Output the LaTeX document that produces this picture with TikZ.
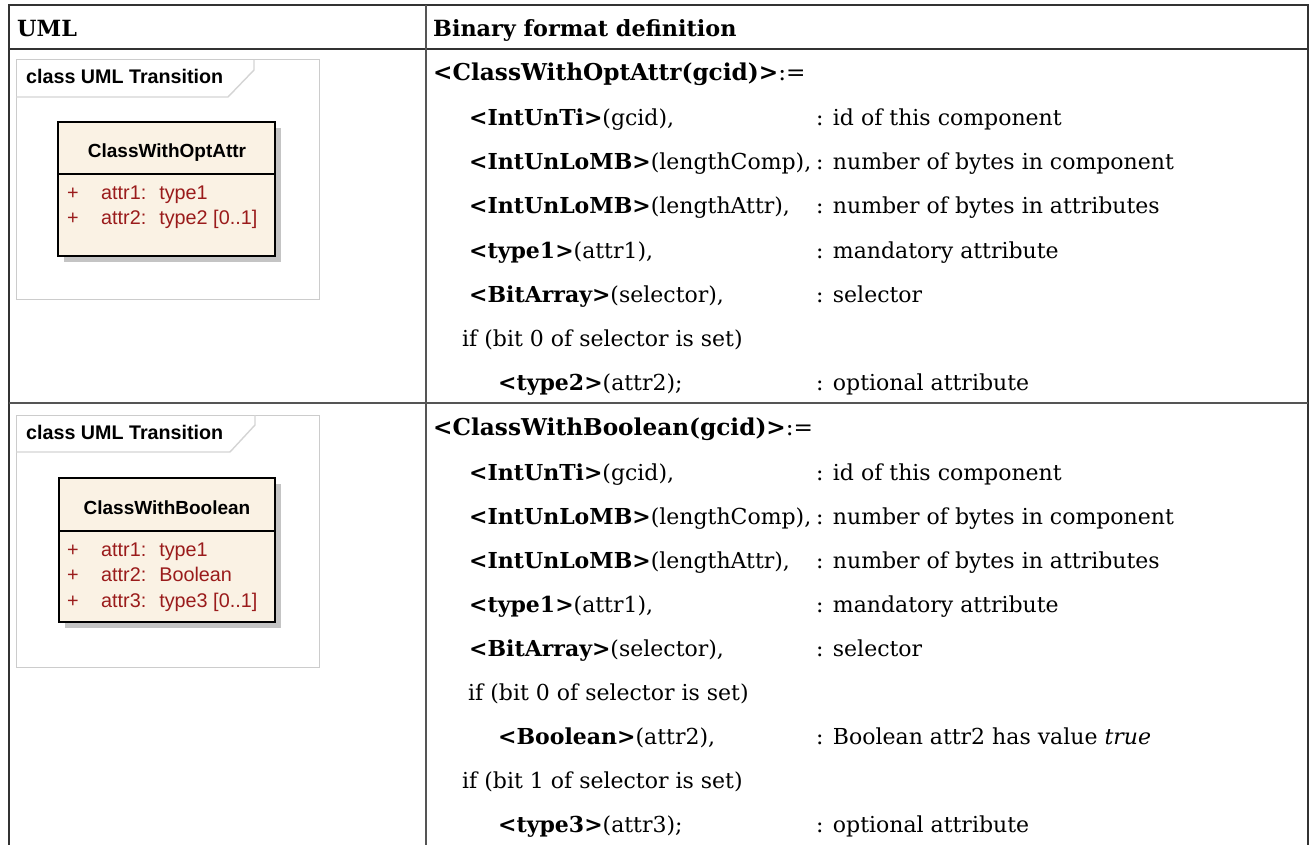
\documentclass[tikz,border=0pt]{standalone}
\usepackage{fontspec}
\setmainfont{DejaVu Serif}
\setsansfont{Liberation Sans}
\definecolor{rulegray}{HTML}{333333}
\definecolor{innergray}{HTML}{555555}
\definecolor{framegray}{HTML}{CCCCCC}
\definecolor{classfill}{HTML}{FAF2E4}
\definecolor{shadowgray}{HTML}{C4C4C4}
\definecolor{attrred}{HTML}{9A1B1B}
\tikzset{
  outerrule/.style={draw=rulegray, line width=2.4pt},
  innerrule/.style={draw=innergray, line width=2pt},
  txt/.style={anchor=base west, inner sep=0pt, font=\fontsize{22}{26}\selectfont},
  deftitle/.style={anchor=base west, inner sep=0pt, font=\fontsize{23.2}{27}\selectfont},
  hdr/.style={txt, font=\fontsize{22.3}{26}\selectfont\bfseries},
  umlframe/.style={draw=framegray, line width=1pt},
  umltab/.style={draw=framegray!85, line width=1.4pt},
  umlshadow/.style={fill=shadowgray, draw=none},
  umlbox/.style={draw=black, line width=1.8pt, fill=classfill},
  umlline/.style={draw=black, line width=1.6pt},
  framelabel/.style={anchor=base west, inner sep=0pt, font=\sffamily\bfseries\fontsize{19.7}{22}\selectfont},
  classname/.style={anchor=base, inner sep=0pt, font=\sffamily\bfseries\fontsize{19}{22}\selectfont},
  attrplus/.style={anchor=base west, inner sep=0pt, text=attrred, font=\sffamily\fontsize{19.8}{22}\selectfont},
  attrtext/.style={anchor=base west, inner sep=0pt, text=attrred, font=\sffamily\fontsize{19.8}{22}\selectfont},
}
\newcommand{\gap}{\hspace{13pt}}
\begin{document}
\begin{tikzpicture}[x=1pt,y=-1pt]
\useasboundingbox (0,0) rectangle (1314,845);
\fill[white] (0,0) rectangle (1314,845);

% table rules
\coordinate (tl) at (9,5);
\coordinate (tr) at (1308,5);
\coordinate (bl) at (9,845);
\coordinate (br) at (1308,845);
\coordinate (ct) at (426,5);
\coordinate (cb) at (426,845);
\coordinate (hl) at (9,49);
\coordinate (hr) at (1308,49);
\coordinate (rl) at (9,403);
\coordinate (rr) at (1308,403);
\draw[outerrule] (bl) -- (tl) -- (tr) -- (br);
\draw[outerrule] (hl) -- (hr);
\draw[innerrule] (ct) -- (cb);
\draw[innerrule] (rl) -- (rr);

% header
\node[hdr] (huml) at (17,37) {UML};
\node[hdr] (hbin) at (433,37) {Binary format definition};

% ---- first UML diagram
\draw[umlframe] (16,60) rectangle (319,299);
\draw[umltab] (16,97) -- (228,97) -- (254,70) -- (254,60);
\node[framelabel] (lab1) at (26,84) {class UML Transition};
\fill[umlshadow] (64,128) rectangle (281,262);
\draw[umlbox] (58,122) rectangle (275,256);
\draw[umlline] (58,174) -- (275,174);
\node[classname] (c1) at (167,158) {ClassWithOptAttr};
\node[attrplus] (c1p1) at (67,200) {+};
\node[attrtext] (c1a1) at (101,200) {attr1:\gap type1};
\node[attrplus] (c1p2) at (67,225) {+};
\node[attrtext] (c1a2) at (101,225) {attr2:\gap type2 [0..1]};

% ---- second UML diagram
\draw[umlframe] (16,415) rectangle (319,667);
\draw[umltab] (16,452) -- (230,452) -- (255,425) -- (255,415);
\node[framelabel] (lab2) at (26,439) {class UML Transition};
\fill[umlshadow] (65,484) rectangle (281,628);
\draw[umlbox] (59,478) rectangle (275,622);
\draw[umlline] (59,531) -- (275,531);
\node[classname] (c2) at (167,514) {ClassWithBoolean};
\node[attrplus] (c2p1) at (67,556) {+};
\node[attrtext] (c2a1) at (101,556) {attr1:\gap type1};
\node[attrplus] (c2p2) at (67,581) {+};
\node[attrtext] (c2a2) at (101,581) {attr2:\gap Boolean};
\node[attrplus] (c2p3) at (67,607) {+};
\node[attrtext] (c2a3) at (101,607) {attr3:\gap type3 [0..1]};

% ---- first binary definition
\node[deftitle] (d1) at (433,81) {\textbf{<ClassWithOptAttr(gcid)>}:=};
\node[txt] (d1a) at (469,126) {\textbf{<IntUnTi>}(gcid),};
\node[txt] (d1ac) at (816,126) {: id of this component};
\node[txt] (d1b) at (469,170) {\textbf{<IntUnLoMB>}(lengthComp),};
\node[txt] (d1bc) at (816,170) {: number of bytes in component};
\node[txt] (d1c) at (469,214) {\textbf{<IntUnLoMB>}(lengthAttr),};
\node[txt] (d1cc) at (816,214) {: number of bytes in attributes};
\node[txt] (d1d) at (469,258) {\textbf{<type1>}(attr1),};
\node[txt] (d1dc) at (816,258) {: mandatory attribute};
\node[txt] (d1e) at (469,302) {\textbf{<BitArray>}(selector),};
\node[txt] (d1ec) at (816,302) {: selector};
\node[txt] (d1f) at (462,346) {if (bit 0 of selector is set)};
\node[txt] (d1g) at (498,390) {\textbf{<type2>}(attr2);};
\node[txt] (d1gc) at (816,390) {: optional attribute};

% ---- second binary definition
\node[deftitle] (d2) at (433,435) {\textbf{<ClassWithBoolean(gcid)>}:=};
\node[txt] (d2a) at (469,480) {\textbf{<IntUnTi>}(gcid),};
\node[txt] (d2ac) at (816,480) {: id of this component};
\node[txt] (d2b) at (469,524) {\textbf{<IntUnLoMB>}(lengthComp),};
\node[txt] (d2bc) at (816,524) {: number of bytes in component};
\node[txt] (d2c) at (469,568) {\textbf{<IntUnLoMB>}(lengthAttr),};
\node[txt] (d2cc) at (816,568) {: number of bytes in attributes};
\node[txt] (d2d) at (469,612) {\textbf{<type1>}(attr1),};
\node[txt] (d2dc) at (816,612) {: mandatory attribute};
\node[txt] (d2e) at (469,656) {\textbf{<BitArray>}(selector),};
\node[txt] (d2ec) at (816,656) {: selector};
\node[txt] (d2f) at (468,700) {if (bit 0 of selector is set)};
\node[txt] (d2g) at (498,744) {\textbf{<Boolean>}(attr2),};
\node[txt] (d2gc) at (816,744) {: Boolean attr2 has value \textit{true}};
\node[txt] (d2h) at (462,788) {if (bit 1 of selector is set)};
\node[txt] (d2i) at (498,832) {\textbf{<type3>}(attr3);};
\node[txt] (d2ic) at (816,832) {: optional attribute};
\end{tikzpicture}
\end{document}
